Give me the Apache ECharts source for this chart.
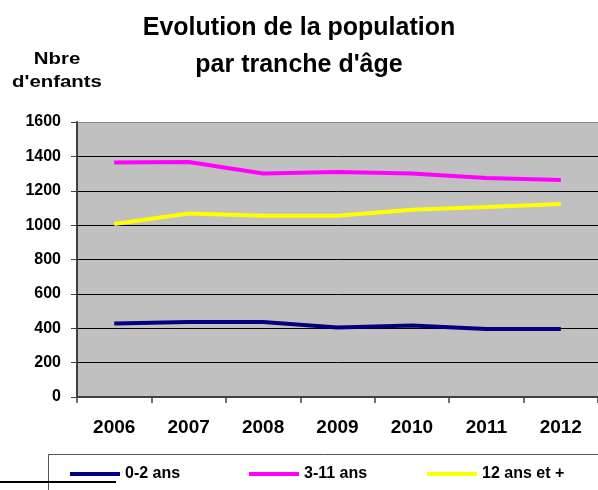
<!DOCTYPE html>
<html>
<head>
<meta charset="utf-8">
<script src="https://cdn.jsdelivr.net/npm/echarts@6/dist/echarts.min.js"></script>
<style>
html,body{margin:0;padding:0;background:#fff;}
#c{width:598px;height:490px;}
</style>
</head>
<body>
<div id="c"></div>
<script>
var years = ['2006','2007','2008','2009','2010','2011','2012'];
var age0_2 = [428, 437, 437, 404, 416, 395, 395];
var age3_11 = [1365, 1367, 1300, 1309, 1300, 1274, 1263];
var age12p = [1006, 1068, 1055, 1055, 1090, 1105, 1123];
var yTicks = [0, 200, 400, 600, 800, 1000, 1200, 1400, 1600];
var seriesNames = ['0-2 ans', '3-11 ans', '12 ans et +'];
var seriesColors = ['#000080', '#ff00ff', '#ffff00'];

var FONT = "'Liberation Sans', Arial, Helvetica, sans-serif";
var chart = echarts.init(document.getElementById('c'), null, {renderer: 'canvas'});

function legendAt(name, left) {
  return {
    left: left, top: 466, padding: 0, itemGap: 0,
    icon: 'rect', itemWidth: 50, itemHeight: 4,
    data: [name],
    selectedMode: false,
    textStyle: {fontFamily: FONT, fontWeight: 'bold', fontSize: 16, color: '#000'}
  };
}

var splitColors = yTicks.map(function (v, i) { return i === yTicks.length - 1 ? '#8c8c8c' : '#000'; });

chart.setOption({
  animation: false,
  backgroundColor: '#fff',
  title: {
    text: 'Evolution de la population\npar tranche d\'âge',
    left: 294, top: 5, textAlign: 'center',
    textStyle: {fontFamily: FONT, fontWeight: 'bold', fontSize: 25, lineHeight: 37, color: '#000'}
  },
  legend: [
    legendAt(seriesNames[0], 70),
    legendAt(seriesNames[1], 249),
    legendAt(seriesNames[2], 427)
  ],
  grid: {
    left: 77, top: 122, width: 525, height: 275,
    show: true, backgroundColor: '#c0c0c0', borderWidth: 0
  },
  xAxis: {
    type: 'category', data: years, boundaryGap: true,
    axisLine: {show: true, lineStyle: {color: '#404040', width: 2}},
    axisTick: {show: true, length: 6, alignWithLabel: false, lineStyle: {color: '#404040', width: 1.5}},
    axisLabel: {margin: 21, fontFamily: FONT, fontWeight: 'bold', fontSize: 19, color: '#000'},
    splitLine: {show: false}
  },
  yAxis: {
    type: 'value', min: yTicks[0], max: yTicks[yTicks.length - 1], interval: 200,
    axisLine: {show: true, lineStyle: {color: '#404040', width: 2}},
    axisTick: {show: true, length: 6, inside: false, lineStyle: {color: '#404040', width: 1}},
    axisLabel: {margin: 16, fontFamily: FONT, fontWeight: 'bold', fontSize: 16, color: '#000',
                formatter: function (v) { return String(v); }},
    splitLine: {show: true, lineStyle: {color: splitColors, width: 1}}
  },
  series: [
    {name: seriesNames[0], type: 'line', data: age0_2, showSymbol: false, symbol: 'none',
     lineStyle: {color: seriesColors[0], width: 4}, itemStyle: {color: seriesColors[0]}},
    {name: seriesNames[1], type: 'line', data: age3_11, showSymbol: false, symbol: 'none',
     lineStyle: {color: seriesColors[1], width: 4}, itemStyle: {color: seriesColors[1]}},
    {name: seriesNames[2], type: 'line', data: age12p, showSymbol: false, symbol: 'none',
     lineStyle: {color: seriesColors[2], width: 4}, itemStyle: {color: seriesColors[2]}}
  ],
  graphic: [
    {type: 'text', x: 57, y: 48, scaleX: 1.2,
     style: {text: 'Nbre\nd\'enfants', fontFamily: FONT, fontWeight: 'bold', fontSize: 17, lineHeight: 23,
             fill: '#000', textAlign: 'center', textVerticalAlign: 'top'}},
    {type: 'line', shape: {x1: 48.5, y1: 454.5, x2: 598, y2: 454.5}, style: {stroke: '#555', lineWidth: 1}},
    {type: 'line', shape: {x1: 48.5, y1: 454.5, x2: 48.5, y2: 490}, style: {stroke: '#555', lineWidth: 1}},
    {type: 'line', shape: {x1: 0, y1: 482, x2: 116, y2: 482}, style: {stroke: '#000', lineWidth: 2}}
  ]
});
</script>
</body>
</html>
